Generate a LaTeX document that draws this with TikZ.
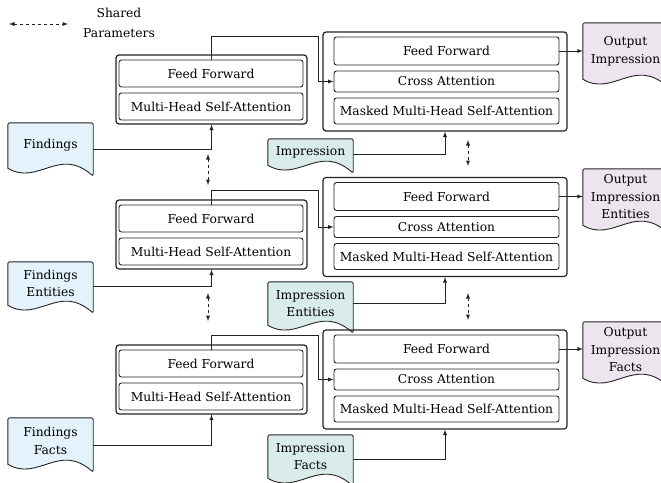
\documentclass[tikz,border=0pt]{standalone}
\usepackage{fontspec}
\setmainfont{DejaVu Serif}
\usetikzlibrary{backgrounds}
\definecolor{findfill}{RGB}{228,242,251}
\definecolor{impfill}{RGB}{217,236,233}
\definecolor{outfill}{RGB}{236,229,238}
\definecolor{edge}{RGB}{35,35,35}
\tikzset{
  layer/.style={draw=edge, line width=0.9pt, rounded corners=2.5pt, inner sep=0pt,
    minimum height=27pt, font=\fontsize{12.3}{14}\selectfont},
  block/.style={draw=edge, line width=1.2pt, rounded corners=3pt, inner sep=0pt},
  doc/.style={minimum width=85pt, inner sep=0pt, align=center,
    font=\fontsize{12.3}{17.5}\selectfont},
  link/.style={draw=edge, line width=0.9pt, -latex},
  shared/.style={draw=edge, line width=0.9pt, dashed, latex-latex},
}
% document outline with a wavy bottom edge
\newcommand{\docshape}[2]{%
  \draw[draw=edge, line width=0.9pt, fill=#2, rounded corners=2pt]
    (#1.south west) -- (#1.north west) -- (#1.north east) -- ([yshift=-8pt]#1.south east)
    [sharp corners] .. controls ([xshift=51pt,yshift=22pt]#1.south west)
    and ([xshift=30pt,yshift=-18pt]#1.south west) .. (#1.south west) -- cycle;}
\begin{document}
\begin{tikzpicture}[x=1pt, y=-1pt]
  \useasboundingbox (0,0) rectangle (661,482);

  % legend
  \coordinate (la) at (9,24);
  \coordinate (lb) at (68,24);
  \draw[shared] (la) -- (lb);
  \node[doc, font=\fontsize{12.3}{20}\selectfont] (legend) at (119,23) {Shared\\Parameters};

  % encoders
  \node[block, minimum width=191pt, minimum height=69pt] (e1) at (211.5,89.5) {};
  \node[layer, minimum width=184pt] (e1ff) at (211,73.5) {Feed Forward};
  \node[layer, minimum width=184pt] (e1mh) at (211,106.5) {Multi-Head Self-Attention};
  \node[block, minimum width=191pt, minimum height=69pt] (e2) at (211.5,234.5) {};
  \node[layer, minimum width=184pt] (e2ff) at (211,218.5) {Feed Forward};
  \node[layer, minimum width=184pt] (e2mh) at (211,251.5) {Multi-Head Self-Attention};
  \node[block, minimum width=191pt, minimum height=69pt] (e3) at (211.5,379.5) {};
  \node[layer, minimum width=184pt] (e3ff) at (211,363.5) {Feed Forward};
  \node[layer, minimum width=184pt] (e3mh) at (211,396.5) {Multi-Head Self-Attention};

  % decoders
  \node[block, minimum width=244pt, minimum height=99pt] (d1) at (445,81.5) {};
  \node[layer, minimum width=225pt, minimum height=28pt] (d1ff) at (446.5,51) {Feed Forward};
  \node[layer, minimum width=225pt, minimum height=21pt] (d1ca) at (446.5,81.5) {Cross Attention};
  \node[layer, minimum width=225pt, minimum height=26pt] (d1mm) at (446.5,111) {Masked Multi-Head Self-Attention};
  \node[block, minimum width=244pt, minimum height=99pt] (d2) at (445,227) {};
  \node[layer, minimum width=225pt, minimum height=28pt] (d2ff) at (446.5,196.5) {Feed Forward};
  \node[layer, minimum width=225pt, minimum height=21pt] (d2ca) at (446.5,227) {Cross Attention};
  \node[layer, minimum width=225pt, minimum height=26pt] (d2mm) at (446.5,256.5) {Masked Multi-Head Self-Attention};
  \node[block, minimum width=244pt, minimum height=99pt] (d3) at (445,379.5) {};
  \node[layer, minimum width=225pt, minimum height=28pt] (d3ff) at (446.5,349) {Feed Forward};
  \node[layer, minimum width=225pt, minimum height=21pt] (d3ca) at (446.5,379.5) {Cross Attention};
  \node[layer, minimum width=225pt, minimum height=26pt] (d3mm) at (446.5,409) {Masked Multi-Head Self-Attention};

  % inputs and outputs
  \node[doc, minimum height=45pt] (find1) at (50.5,145.5) {Findings};
  \node[doc, minimum height=43pt] (find2) at (50.5,283.5) {Findings\\Entities};
  \node[doc, minimum height=46pt] (find3) at (50.5,441) {Findings\\Facts};
  \node[doc, minimum height=26pt] (imp1) at (310.5,152) {Impression};
  \node[doc, minimum height=43pt] (imp2) at (310.5,303.5) {Impression\\Entities};
  \node[doc, minimum height=43pt] (imp3) at (310.5,456.5) {Impression\\Facts};
  \node[doc, minimum height=56pt] (out1) at (625.5,51) {Output\\Impression};
  \node[doc, minimum height=56pt] (out2) at (625.5,197) {Output\\Impression\\Entities};
  \node[doc, minimum height=56pt] (out3) at (625.5,350) {Output\\Impression\\Facts};

  \begin{scope}[on background layer]
    \docshape{find1}{findfill}
    \docshape{find2}{findfill}
    \docshape{find3}{findfill}
    \docshape{imp1}{impfill}
    \docshape{imp2}{impfill}
    \docshape{imp3}{impfill}
    \docshape{out1}{outfill}
    \docshape{out2}{outfill}
    \docshape{out3}{outfill}
  \end{scope}

  % encoder to cross attention
  \draw[link] (e1ff.north) |- (318,36) |- (d1ca.west);
  \draw[link] (e2ff.north) |- (318,190) |- (d2ca.west);
  \draw[link] (e3ff.north) |- (318,335) |- (d3ca.west);

  % inputs
  \draw[link] ([yshift=-4pt]find1.east) -| (e1.south);
  \draw[link] ([yshift=-3pt]find2.east) -| (e2.south);
  \draw[link] ([yshift=-4pt]find3.east) -| (e3.south);
  \draw[link] ([yshift=-2pt]imp1.east) -| (d1.south);
  \draw[link] (imp2.east) -| (d2.south);
  \draw[link] ([yshift=-3pt]imp3.east) -| (d3.south);

  % outputs
  \draw[link] (d1ff.east) -- (d1ff.east -| out1.west);
  \draw[link] (d2ff.east) -- (d2ff.east -| out2.west);
  \draw[link] (d3ff.east) -- (d3ff.east -| out3.west);

  % shared parameters
  \coordinate (s1a) at (208,154);
  \coordinate (s1b) at (208,185);
  \coordinate (s2a) at (208,293);
  \coordinate (s2b) at (208,321);
  \coordinate (s3a) at (468,140);
  \coordinate (s3b) at (468,166);
  \coordinate (s4a) at (468,293);
  \coordinate (s4b) at (468,320);
  \draw[shared] (s1a) -- (s1b);
  \draw[shared] (s2a) -- (s2b);
  \draw[shared] (s3a) -- (s3b);
  \draw[shared] (s4a) -- (s4b);
\end{tikzpicture}
\end{document}
